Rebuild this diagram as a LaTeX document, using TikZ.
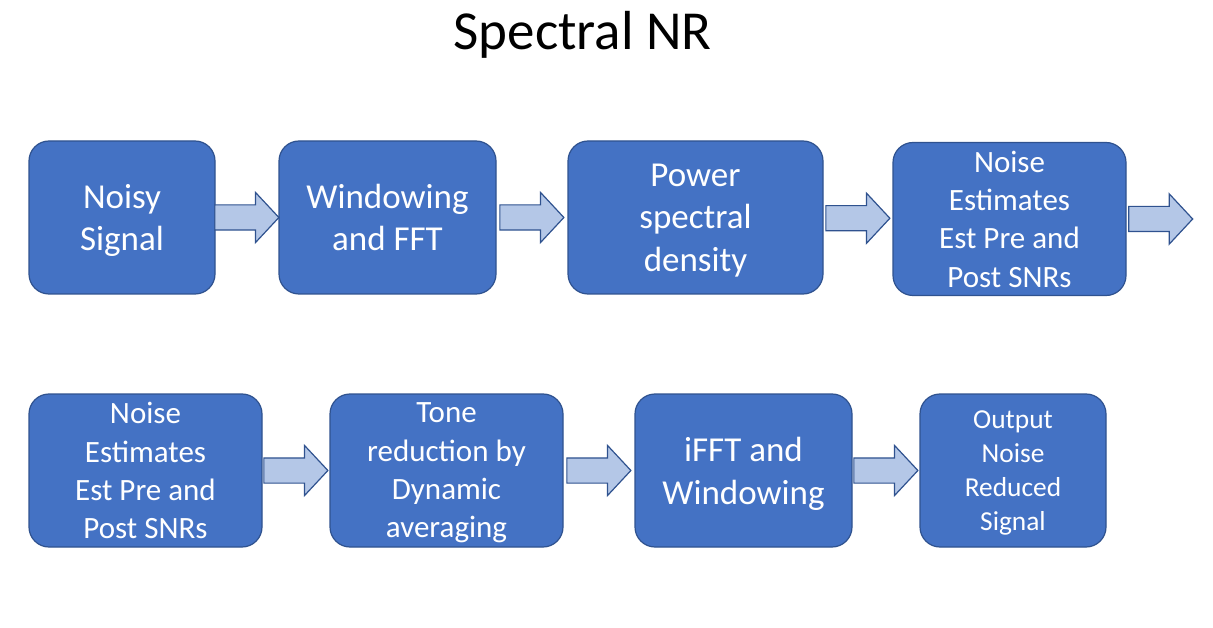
\documentclass[tikz,border=0pt]{standalone}
\usepackage{fontspec}
\setmainfont{Carlito}
\usetikzlibrary{shapes.arrows, calc}

\definecolor{boxblue}{HTML}{4472C4}
\definecolor{edgeblue}{HTML}{2F528F}
\definecolor{arrowblue}{HTML}{B4C7E7}

\tikzset{
    stage/.style={draw=edgeblue, fill=boxblue, line width=1.2pt, rounded corners=20pt,
        text=white, align=center, inner sep=0pt, text depth=0pt, minimum height=153pt},
    bigtext/.style={font=\fontsize{35}{42.7}\selectfont},
    midtext/.style={font=\fontsize{31}{38.3}\selectfont},
    smalltext/.style={font=\fontsize{27.4}{34}\selectfont},
    flow/.style={single arrow, draw=edgeblue, fill=arrowblue, line width=1.2pt,
        minimum height=64pt, minimum width=49pt, single arrow head extend=12.5pt,
        single arrow tip angle=94, inner xsep=0pt, inner ysep=12pt, xshift=-6pt}
}

\begin{document}
\begin{tikzpicture}[x=1pt, y=-1pt]
            \useasboundingbox (0,0) rectangle (1213,628);
            \node[anchor=base, font=\fontsize{55}{66}\selectfont] (title) at (582.5,50) {Spectral NR};
            % first row
            \node[stage, bigtext, minimum width=186pt] (noisy) at (122,217.5) {Noisy\\Signal};
            \node[stage, bigtext, minimum width=217pt] (window) at (387.5,217.5) {Windowing\\and FFT};
            \node[stage, bigtext, minimum width=255pt] (psd) at (695.5,217.5) {Power\\spectral\\density};
            \node[stage, midtext, minimum width=233pt] (est) at (1009.5,219) {Noise\\Estimates\\Est Pre and\\Post SNRs};
            \coordinate (next) at (1195,219);
            % second row
            \node[stage, midtext, minimum width=233pt] (est2) at (145.5,470.5) {Noise\\Estimates\\Est Pre and\\Post SNRs};
            \node[stage, midtext, minimum width=233pt] (tone) at (446.5,470.5) {Tone\\reduction by\\Dynamic\\averaging};
            \node[stage, bigtext, minimum width=217pt] (ifft) at (743.5,470.5) {iFFT and\\Windowing};
            \node[stage, smalltext, minimum width=186pt] (out) at (1013,470.5) {Output\\Noise\\Reduced\\Signal};
            % arrows
            \node[flow] (a1) at ($(noisy.east)!0.5!(window.west)$) {};
            \node[flow] (a2) at ($(window.east)!0.5!(psd.west)$) {};
            \node[flow] (a3) at ($(psd.east)!0.5!(est.west)$) {};
            \node[flow] (a4) at ($(est.east)!0.5!(next)$) {};
            \node[flow] (a5) at ($(est2.east)!0.5!(tone.west)$) {};
            \node[flow] (a6) at ($(tone.east)!0.5!(ifft.west)$) {};
            \node[flow] (a7) at ($(ifft.east)!0.5!(out.west)$) {};
        \end{tikzpicture}
\end{document}
